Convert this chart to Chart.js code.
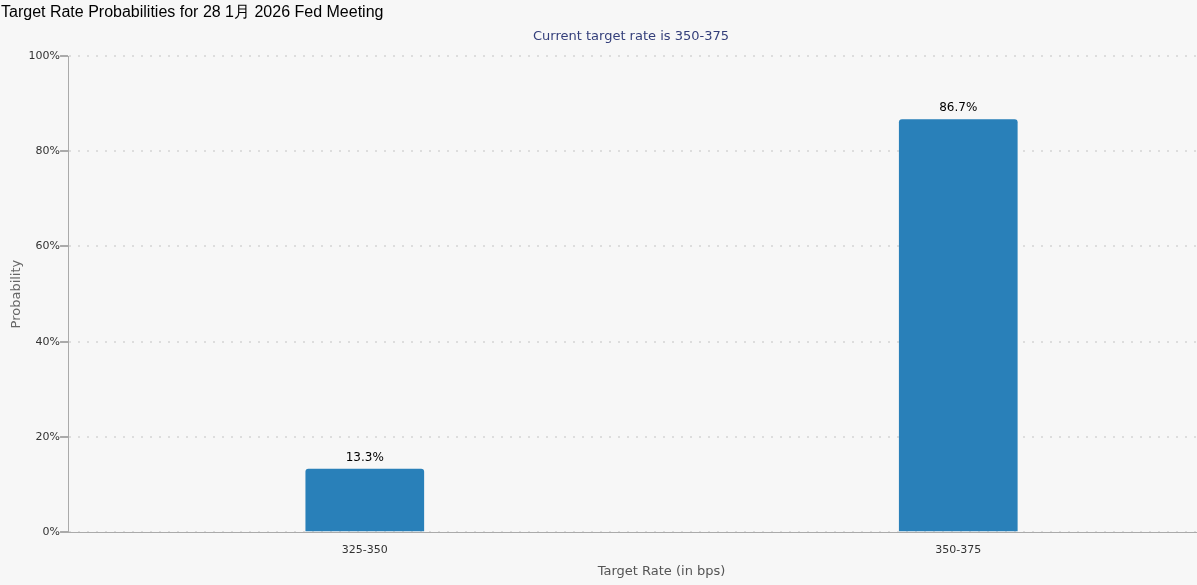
<!DOCTYPE html>
<html>
<head>
<meta charset="utf-8">
<script src="https://cdn.jsdelivr.net/npm/chart.js@4/dist/chart.umd.min.js"></script>
<style>
  html, body { margin: 0; padding: 0; background: #f7f7f7; overflow: hidden; }
  #wrap { width: 1255px; height: 585px; }
</style>
</head>
<body>
<div id="wrap"><canvas id="chart"></canvas></div>
<script>
const chartTitle = 'Target Rate Probabilities for 28 1月 2026 Fed Meeting';
const subTitle = 'Current target rate is 350-375';
const rateBuckets = ['325-350', '350-375'];
const probabilities = [13.3, 86.7];
const yTicks = [0, 20, 40, 60, 80, 100];

const textPlugin = {
  id: 'texts',
  afterDraw(chart) {
    const ctx = chart.ctx;
    ctx.save();
    ctx.fillStyle = '#000';
    ctx.font = '16px "Liberation Sans", Arial, sans-serif';
    ctx.textBaseline = 'middle';
    ctx.textAlign = 'left';
    ctx.fillText(chartTitle, 1, 13);
    ctx.fillStyle = '#333e7a';
    ctx.font = '13px "DejaVu Sans", Verdana, sans-serif';
    ctx.textAlign = 'center';
    ctx.fillText(subTitle, 631, 37);

    const meta = chart.getDatasetMeta(0);
    ctx.fillStyle = '#000';
    ctx.font = '12px "DejaVu Sans", Verdana, sans-serif';
    ctx.textBaseline = 'bottom';
    meta.data.forEach((bar, i) => {
      ctx.fillText(probabilities[i].toFixed(1) + '%', bar.x, bar.y - 5);
    });
    ctx.restore();
  }
};

new Chart(document.getElementById('chart'), {
  type: 'bar',
  data: {
    labels: rateBuckets,
    datasets: [{
      data: probabilities,
      backgroundColor: '#2980b9',
      borderRadius: 3,
      borderSkipped: 'bottom',
      barPercentage: 0.4,
      categoryPercentage: 0.5
    }]
  },
  plugins: [textPlugin],
  options: {
    animation: false,
    responsive: true,
    maintainAspectRatio: false,
    layout: { padding: { top: 56, right: 0, left: 5, bottom: 0 } },
    plugins: {
      legend: { display: false },
      tooltip: { enabled: false }
    },
    scales: {
      x: {
        grid: { display: false, drawOnChartArea: false },
        border: { color: '#aaa' },
        ticks: { color: '#333', font: { size: 11, family: '"DejaVu Sans", Verdana, sans-serif' } },
        title: { display: true, text: 'Target Rate (in bps)', color: '#555', font: { size: 13, family: '"DejaVu Sans", Verdana, sans-serif' }, padding: { top: 4, bottom: 6 } }
      },
      y: {
        min: 0,
        max: 100,
        afterBuildTicks(scale) { scale.ticks = yTicks.map(v => ({ value: v })); },
        grid: { color: '#dddddd', tickColor: '#aaa', tickLength: 8, drawTicks: true, lineWidth: 2 },
        border: { color: '#aaa', dash: [2, 7] },
        ticks: {
          color: '#333',
          padding: 0,
          font: { size: 11, family: '"DejaVu Sans", Verdana, sans-serif' },
          callback: v => v + '%'
        },
        title: { display: true, text: 'Probability', color: '#666', font: { size: 13, family: '"DejaVu Sans", Verdana, sans-serif' } }
      }
    }
  }
});
</script>
</body>
</html>
